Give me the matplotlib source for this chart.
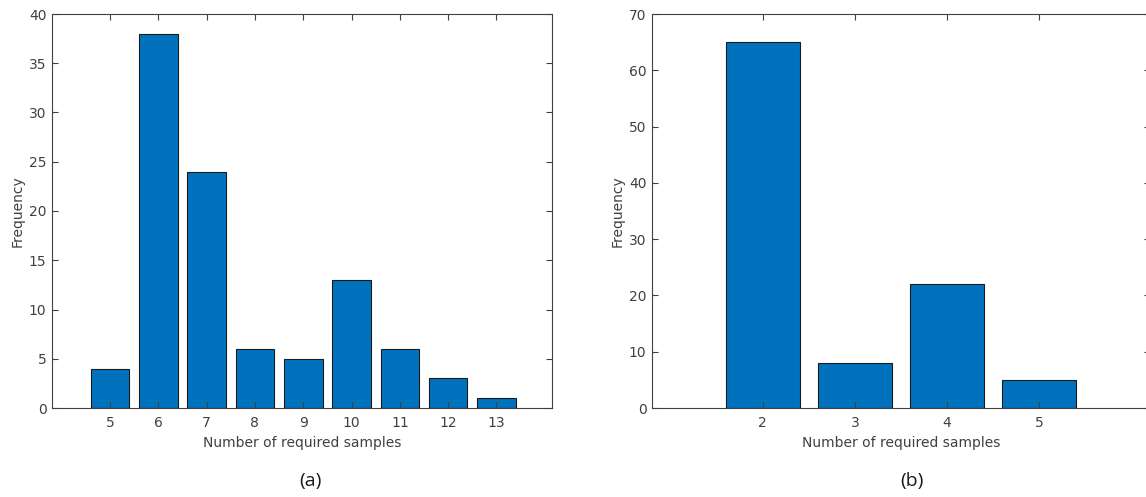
import matplotlib.pyplot as plt

# data
samples_a = [5, 6, 7, 8, 9, 10, 11, 12, 13]
freq_a = [4, 38, 24, 6, 5, 13, 6, 3, 1]

samples_b = [2, 3, 4, 5]
freq_b = [65, 8, 22, 5]

bar_color = "#0072BD"
axis_color = "#404040"

plt.rcParams["font.family"] = "DejaVu Sans"
plt.rcParams["font.size"] = 10

fig = plt.figure(figsize=(11.46, 4.97), dpi=100)

# axes placed in pixels of the 1146x497 picture
W, H = 1146.0, 497.0
ax_a = fig.add_axes([52 / W, 1 - 408 / H, 500 / W, 394 / H])
ax_b = fig.add_axes([652 / W, 1 - 408 / H, 498 / W, 394 / H])


def style(ax):
    for s in ax.spines.values():
        s.set_color(axis_color)
        s.set_linewidth(0.8)
    ax.tick_params(direction="in", top=True, right=True, length=4,
                   width=0.8, color=axis_color, labelcolor=axis_color)
    ax.tick_params(axis="x", pad=6)
    ax.tick_params(axis="y", pad=4)
    ax.set_xlabel("Number of required samples", color=axis_color, labelpad=4)
    ax.set_ylabel("Frequency", color=axis_color, labelpad=3)


ax_a.bar(samples_a, freq_a, width=0.8, color=bar_color,
         edgecolor="#1a1a1a", linewidth=0.8)
ax_a.set_xlim(3.8, 14.15)
ax_a.set_ylim(0, 40)
ax_a.set_xticks(samples_a)
ax_a.set_yticks(range(0, 41, 5))
style(ax_a)

ax_b.bar(samples_b, freq_b, width=0.8, color=bar_color,
         edgecolor="#1a1a1a", linewidth=0.8)
ax_b.set_xlim(0.8, 6.2)
ax_b.set_ylim(0, 70)
ax_b.set_xticks(samples_b)
ax_b.set_yticks(range(0, 71, 10))
style(ax_b)

fig.text(310 / W, 1 - 481 / H, "(a)", ha="center", va="center",
         fontsize=14, family="Open Sans", color="#1a1a1a")
fig.text(912 / W, 1 - 481 / H, "(b)", ha="center", va="center",
         fontsize=14, family="Open Sans", color="#1a1a1a")

fig.savefig("out.png", dpi=100)
